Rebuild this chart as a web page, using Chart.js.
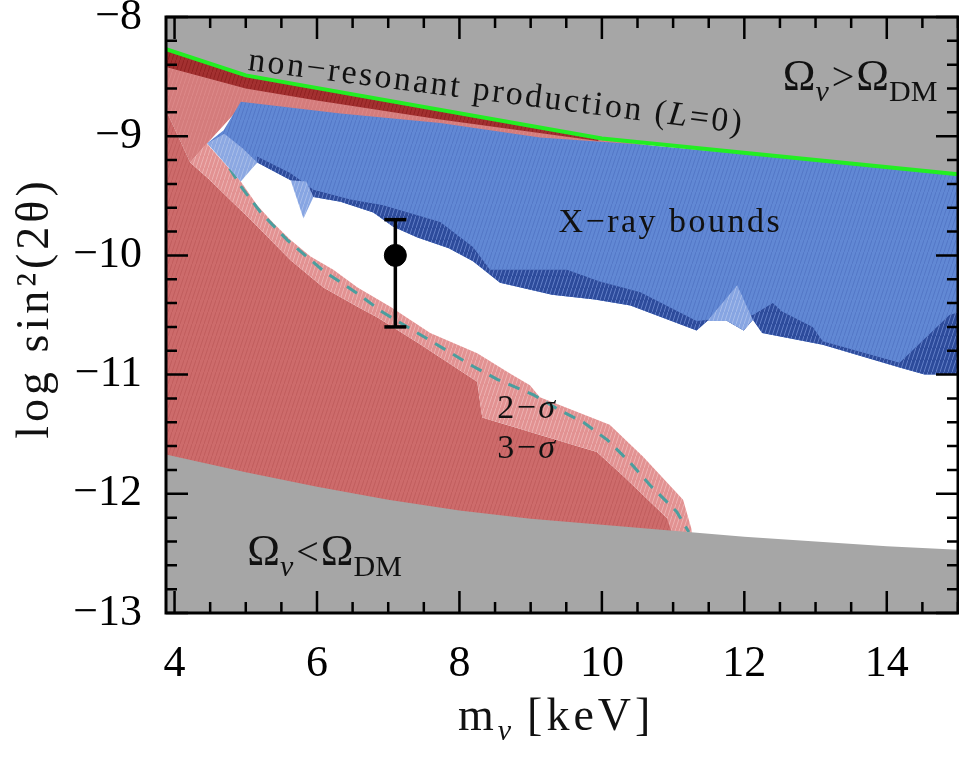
<!DOCTYPE html>
<html>
<head>
<meta charset="utf-8">
<script src="https://cdn.jsdelivr.net/npm/chart.js@4.4.1/dist/chart.umd.min.js"></script>
<style>
  html, body { margin: 0; padding: 0; background: #fff; }
  canvas { display: block; }
</style>
</head>
<body>
<canvas id="grafico" width="959" height="757"></canvas>
<script>
// eixos
const xTicks = [4, 6, 8, 10, 12, 14];
const yTicks = [-13, -12, -11, -10, -9, -8];

// linha de produção não ressonante (L=0)
const nrX = [3.88, 5.0, 10.0, 15.0];
const nrY = [-8.27, -8.49, -9.02, -9.32];

// limite inferior Omega_nu < Omega_DM
const lowX = [3.88, 5, 6, 7, 8, 9, 10, 11, 12, 13, 14, 15];
const lowY = [-11.67, -11.82, -11.94, -12.05, -12.14, -12.21, -12.26, -12.31, -12.36, -12.40, -12.44, -12.47];

// faixa vermelho escuro abaixo da linha verde
const darkRedX = [3.88, 5.0, 9.95, 9.95, 7.73, 6.0, 5.0, 3.88];
const darkRedY = [-8.27, -8.49, -9.02, -9.04, -8.86, -8.70, -8.60, -8.42];

// região rosa superior
const pinkX = [3.88, 5.0, 10.0, 10.7, 10.7, 7.7, 4.93, 4.46, 4.22, 3.88];
const pinkY = [-8.27, -8.49, -9.02, -9.08, -9.12, -8.95, -8.75, -9.06, -9.22, -8.78];

// região 3-sigma
const s3X = [3.88, 4.22, 4.5, 4.79, 5.07, 5.35, 5.63, 6.09, 6.57, 6.85, 7.41, 8.25, 8.32, 9.93, 10.3, 10.91, 11.14, 11.2, 3.88];
const s3Y = [-8.78, -9.22, -9.37, -9.54, -9.70, -9.87, -10.04, -10.27, -10.43, -10.52, -10.73, -11.06, -11.36, -11.65, -11.85, -12.2, -12.32, -12.8, -12.8];

// faixa 2-sigma
const s2X = [4.22, 4.45, 4.93, 5.16, 5.39, 5.63, 5.91, 6.23, 6.57, 7.03, 7.59, 8.25, 8.71, 8.99, 9.13, 10.11, 10.58, 11.14, 11.26, 11.26,
             11.14, 10.91, 10.3, 9.93, 8.32, 8.25, 7.41, 6.85, 6.57, 6.09, 5.63, 5.35, 5.07, 4.79, 4.5];
const s2Y = [-9.22, -9.06, -9.38, -9.58, -9.73, -9.87, -10.01, -10.12, -10.27, -10.43, -10.65, -10.82, -10.99, -11.09, -11.19, -11.42, -11.69, -12.05, -12.30, -12.6,
             -12.6, -12.2, -11.85, -11.65, -11.36, -11.06, -10.73, -10.52, -10.43, -10.27, -10.04, -9.87, -9.70, -9.54, -9.37];

// linha tracejada
const dashX = [4.62, 4.93, 5.21, 5.58, 6.09, 6.57, 6.93, 7.55, 8.19, 8.53, 9.04, 9.41, 9.74, 10.08, 10.4, 10.68, 11.05, 11.22];
const dashY = [-9.12, -9.42, -9.64, -9.87, -10.13, -10.32, -10.48, -10.70, -10.93, -11.04, -11.17, -11.3, -11.4, -11.55, -11.74, -11.93, -12.15, -12.32];

// limites de raios X
const xrayX = [4.93, 6.33, 7.73, 9.13, 10.54, 12.0, 15.0, 15.0, 14.53, 14.18, 13.1, 12.25, 12.12, 11.99, 11.76, 11.48, 11.33, 10.4, 9.9, 9.3, 8.57, 8.19, 7.85, 7.41, 7.07, 6.79, 6.33, 5.95, 5.63, 5.16, 4.93, 4.46, 4.69];
const xrayY = [-8.71, -8.81, -8.89, -9.01, -9.07, -9.15, -9.33, -11.0, -11.0, -10.94, -10.75, -10.65, -10.54, -10.63, -10.55, -10.55, -10.63, -10.42, -10.37, -10.33, -10.23, -10.05, -9.94, -9.85, -9.76, -9.64, -9.55, -9.51, -9.37, -9.22, -9.36, -9.06, -8.95];

// borda escura dos raios X
const xrayEdgeX = [5.16, 5.63, 5.95, 6.33, 6.79, 7.07, 7.41, 7.85, 8.19, 8.57, 9.3, 9.9, 10.4, 11.33, 11.48, 11.76, 11.99, 12.12, 12.25, 13.1, 14.18, 14.53, 15.0,
                   15.0, 14.88, 14.18, 13.1, 12.96, 12.53, 12.4, 12.12, 11.33, 10.54, 9.97, 9.51, 8.43, 8.19, 7.73, 6.93, 6.47, 5.95, 5.63, 5.16];
const xrayEdgeY = [-9.22, -9.37, -9.51, -9.55, -9.64, -9.76, -9.85, -9.94, -10.05, -10.23, -10.33, -10.37, -10.42, -10.63, -10.55, -10.55, -10.63, -10.54, -10.65, -10.75, -10.94, -11.0, -11.0,
                   -10.48, -10.5, -10.9, -10.72, -10.6, -10.47, -10.4, -10.5, -10.55, -10.31, -10.22, -10.12, -10.12, -9.93, -9.72, -9.58, -9.53, -9.45, -9.31, -9.17];

// pontas claras
const spikeAX = [5.63, 5.81, 5.95, 5.85];
const spikeAY = [-9.37, -9.69, -9.51, -9.38];
const spikeBX = [11.48, 11.9, 12.12, 11.99, 11.76];
const spikeBY = [-10.55, -10.25, -10.54, -10.63, -10.55];
const cornerX = [4.46, 4.93, 5.16, 4.95, 4.7];
const cornerY = [-9.06, -9.38, -9.22, -9.1, -8.98];

// ponto com barra de erro
const ptX = [7.1];
const ptY = [-10.0];
const errLo = [-10.6];
const errHi = [-9.7];

const pts = (xs, ys) => xs.map((v, i) => ({x: v, y: ys[i]}));

function rayas(fundo, linha) {
  const c = document.createElement('canvas');
  c.width = 4; c.height = 12;
  const g = c.getContext('2d');
  g.fillStyle = fundo;
  g.fillRect(0, 0, 4, 12);
  g.strokeStyle = linha;
  g.lineWidth = 0.8;
  g.beginPath(); g.moveTo(-1, 15); g.lineTo(5, -3); g.stroke();
  return g.createPattern(c, 'repeat');
}

const CINZA = '#a6a6a6';

function poligono(xs, ys, cor, ordem) {
  return {
    data: pts(xs, ys), backgroundColor: cor, borderWidth: 0, pointRadius: 0,
    fill: 'shape', tension: 0, order: ordem
  };
}

const FONTE = '"Liberation Serif", "DejaVu Serif", serif';

function textoRico(ctx, x, y, partes) {
  let cx = x;
  for (const p of partes) {
    ctx.font = (p.italic ? 'italic ' : '') + p.size + 'px ' + FONTE;
    ctx.fillText(p.t, cx, y + (p.dy || 0));
    cx += ctx.measureText(p.t).width + (p.gap || 0);
  }
}

const textos = {
  id: 'textos',
  afterDatasetsDraw(chart) {
    const {ctx, scales: {x, y}} = chart;
    ctx.save();
    ctx.fillStyle = '#111';
    ctx.textBaseline = 'alphabetic';
    ctx.textAlign = 'left';
    ctx.letterSpacing = '2.5px';

    ctx.save();
    ctx.translate(x.getPixelForValue(5.02), y.getPixelForValue(-8.445));
    ctx.rotate(7.3 * Math.PI / 180);
    textoRico(ctx, 0, 0, [{t: 'non−resonant production (', size: 34}, {t: 'L', size: 34, italic: true}, {t: '=0)', size: 34}]);
    ctx.restore();

    textoRico(ctx, x.getPixelForValue(9.39), y.getPixelForValue(-9.8), [{t: 'X−ray bounds', size: 34}]);
    textoRico(ctx, x.getPixelForValue(8.53), y.getPixelForValue(-11.36), [{t: '2−', size: 34}, {t: 'σ', size: 34, italic: true}]);
    textoRico(ctx, x.getPixelForValue(8.53), y.getPixelForValue(-11.70), [{t: '3−', size: 34}, {t: 'σ', size: 34, italic: true}]);

    ctx.letterSpacing = '0px';
    textoRico(ctx, x.getPixelForValue(12.54), y.getPixelForValue(-8.61), [
      {t: 'Ω', size: 44}, {t: 'ν', size: 30, dy: 11, italic: true, gap: 3}, {t: '>', size: 40, gap: 2},
      {t: 'Ω', size: 44}, {t: 'DM', size: 30, dy: 11}
    ]);
    textoRico(ctx, x.getPixelForValue(5.02), y.getPixelForValue(-12.6), [
      {t: 'Ω', size: 44}, {t: 'ν', size: 30, dy: 11, italic: true, gap: 3}, {t: '<', size: 40, gap: 2},
      {t: 'Ω', size: 44}, {t: 'DM', size: 30, dy: 11}
    ]);

    // títulos dos eixos
    ctx.letterSpacing = '4px';
    textoRico(ctx, 458, 730, [{t: 'm', size: 46}, {t: 'ν', size: 30, dy: 10, italic: true, gap: 12}, {t: '[keV]', size: 46}]);
    ctx.save();
    ctx.translate(48, 308);
    ctx.rotate(-Math.PI / 2);
    ctx.font = '46px ' + FONTE;
    ctx.letterSpacing = '4px';
    ctx.textAlign = 'center';
    ctx.fillText('log sin²(2θ)', 0, 0);
    ctx.restore();
    ctx.restore();
  }
};

const moldura = {
  id: 'moldura',
  afterDraw(chart) {
    const {ctx, chartArea: a, scales: {x, y}} = chart;
    ctx.save();
    ctx.strokeStyle = '#000';
    ctx.lineWidth = 2.5;
    ctx.beginPath();
    for (let v = 4; v <= 15.001; v += 0.5) {
      const px = x.getPixelForValue(v);
      const len = xTicks.includes(Math.round(v * 10) / 10) ? 22 : 11;
      ctx.moveTo(px, a.bottom); ctx.lineTo(px, a.bottom - len);
      ctx.moveTo(px, a.top); ctx.lineTo(px, a.top + len);
    }
    for (let v = -13; v <= -7.999; v += 0.2) {
      const py = y.getPixelForValue(v);
      const len = Math.abs(v - Math.round(v)) < 0.01 ? 22 : 11;
      ctx.moveTo(a.left, py); ctx.lineTo(a.left + len, py);
      ctx.moveTo(a.right, py); ctx.lineTo(a.right - len, py);
    }
    ctx.stroke();
    ctx.lineWidth = 3;
    ctx.strokeRect(a.left, a.top, a.right - a.left, a.bottom - a.top);
    ctx.restore();
  }
};

const ctx = document.getElementById('grafico').getContext('2d');
new Chart(ctx, {
  type: 'line',
  data: {
    datasets: [
      { data: pts(ptX, ptY), showLine: false, pointRadius: 11, pointBackgroundColor: '#000', pointBorderColor: '#000', order: 0 },
      { data: [{x: ptX[0], y: errLo[0]}, {x: ptX[0], y: errHi[0]}], borderColor: '#000', borderWidth: 3.5,
        pointStyle: 'line', pointRadius: 11, pointBorderWidth: 3.5, pointBorderColor: '#000', order: 0.5 },
      { data: pts(nrX, nrY), borderColor: '#22ee22', borderWidth: 4, pointRadius: 0, fill: 'end', backgroundColor: CINZA, tension: 0, order: 1 },
      { data: pts(lowX, lowY), borderWidth: 0, pointRadius: 0, fill: 'start', backgroundColor: CINZA, tension: 0, order: 2 },
      poligono(darkRedX, darkRedY, rayas('rgb(163,48,48)', 'rgb(140,30,30)'), 3),
      poligono(cornerX, cornerY, rayas('rgb(140,168,226)', 'rgb(175,195,235)'), 4),
      poligono(spikeAX, spikeAY, rayas('rgb(135,165,226)', 'rgb(175,195,238)'), 4),
      poligono(spikeBX, spikeBY, rayas('rgb(135,165,226)', 'rgb(175,195,238)'), 4),
      poligono(xrayEdgeX, xrayEdgeY, rayas('rgb(45,75,155)', 'rgb(110,140,210)'), 4.5),
      poligono(xrayX, xrayY, rayas('rgb(97,136,212)', 'rgb(80,115,195)'), 5),
      { data: pts(dashX, dashY), borderColor: 'rgb(75,158,158)', borderWidth: 3, borderDash: [12, 9], pointRadius: 0, fill: false, tension: 0, order: 6 },
      poligono(s2X, s2Y, rayas('rgb(226,146,146)', 'rgb(240,185,185)'), 7),
      poligono(s3X, s3Y, rayas('rgb(205,107,107)', 'rgb(190,90,90)'), 8),
      poligono(pinkX, pinkY, rayas('rgb(212,124,124)', 'rgb(222,140,140)'), 9)
    ]
  },
  options: {
    responsive: false,
    animation: false,
    events: [],
    layout: { autoPadding: false, padding: { top: 17, right: 1, left: 0, bottom: 0 } },
    plugins: { legend: { display: false }, tooltip: { enabled: false } },
    scales: {
      x: {
        type: 'linear', min: 3.88, max: 15,
        grid: { display: false }, border: { display: false },
        afterFit: (s) => { s.height = 144; s.paddingLeft = 0; s.paddingRight = 0; },
        ticks: {
          stepSize: 2, includeBounds: false, padding: 17, color: '#000',
          font: { family: FONTE, size: 44 },
          callback: (v) => xTicks.includes(v) ? String(v) : ''
        }
      },
      y: {
        type: 'linear', min: -13, max: -8,
        grid: { display: false }, border: { display: false },
        afterFit: (s) => { s.width = 166; s.paddingTop = 0; s.paddingBottom = 0; },
        ticks: {
          stepSize: 1, includeBounds: false, padding: 16, color: '#000',
          font: { family: FONTE, size: 44 },
          callback: (v) => yTicks.includes(v) ? '−' + Math.abs(v) : ''
        }
      }
    }
  },
  plugins: [textos, moldura]
});
</script>
</body>
</html>
